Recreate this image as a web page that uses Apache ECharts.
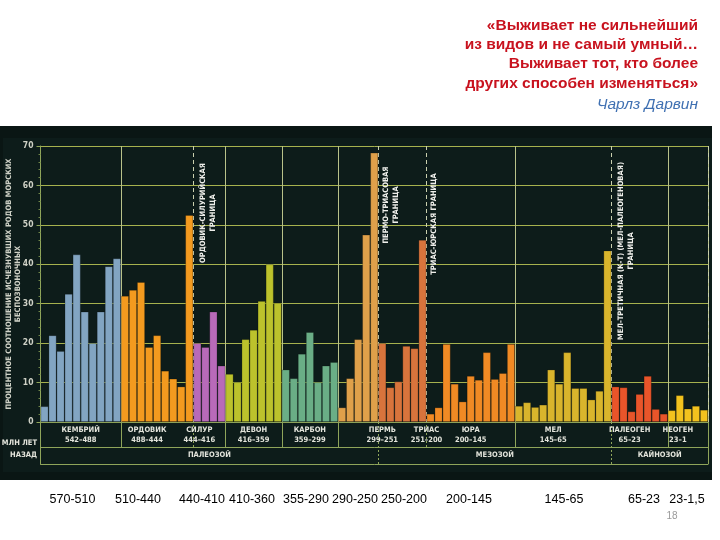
<!DOCTYPE html>
<html>
<head>
<meta charset="utf-8">
<script src="https://cdn.jsdelivr.net/npm/echarts@6/dist/echarts.min.js"></script>
<style>
  html, body { margin: 0; padding: 0; background: #fff; }
  #chart { width: 720px; height: 540px; }
</style>
</head>
<body>
<div id="chart"></div>
<script>
// процент исчезнувших родов по интервалам
const cambrian = [4, 22, 18, 32.5, 42.5, 28, 20, 28, 39.5, 41.5];
const ordovician = [32, 33.5, 35.5, 19, 22, 13, 11, 9, 52.5];
const silurian = [20, 19, 28, 14.3];
const devonian = [12.2, 10.1, 21, 23.4, 30.7, 40, 30.2];
const carboniferous = [13.3, 11.1, 17.3, 22.8, 10.1, 14.3, 15.2];
const permian = [3.7, 11.1, 21, 47.5, 68.3];
const triassic = [20, 8.8, 10.3, 19.3, 18.7, 46.2];
const jurassic = [2.1, 3.7, 19.8, 9.7, 5.2, 11.7, 10.7, 17.7, 10.9, 12.4, 19.8];
const cretaceous = [4.1, 5, 3.8, 4.4, 13.3, 9.7, 17.7, 8.6, 8.6, 5.7, 7.9, 43.5];
const paleogene = [9, 8.8, 2.7, 7.1, 11.7, 3.3, 2.1];
const neogene = [3, 6.8, 3.4, 4.1, 3.1];

const periodNames = ['КЕМБРИЙ', 'ОРДОВИК', 'СИЛУР', 'ДЕВОН', 'КАРБОН', 'ПЕРМЬ', 'ТРИАС', 'ЮРА', 'МЕЛ', 'ПАЛЕОГЕН', 'НЕОГЕН'];
const periodDates = ['542–488', '488–444', '444–416', '416–359', '359–299', '299–251', '251–200', '200–145', '145–65', '65–23', '23–1'];
const eraNames = ['ПАЛЕОЗОЙ', 'МЕЗОЗОЙ', 'КАЙНОЗОЙ'];
const eraFirstPeriod = [0, 6, 9];
const extinctionPeriods = [2, 6, 7, 9]; // периоды, начинающиеся после массового вымирания
const boundaryNotes = [
  'ОРДОВИК-СИЛУРИЙСКАЯ\nГРАНИЦА',
  'ПЕРМО-ТРИАСОВАЯ\nГРАНИЦА',
  'ТРИАС-ЮРСКАЯ ГРАНИЦА',
  'МЕЛ-ТРЕТИЧНАЯ (К-Т) (МЕЛ-ПАЛЕОГЕНОВАЯ)\nГРАНИЦА'
];
const slideRanges = ['570-510', '510-440', '440-410', '410-360', '355-290', '290-250', '250-200', '200-145', '145-65', '65-23', '23-1,5'];
const quoteLines = ['«Выживает не сильнейший', 'из видов и не самый умный…', 'Выживает тот, кто более', 'других способен изменяться»'];
const quoteAuthor = 'Чарлз Дарвин';

const periodColors = ['#82a5c2', '#f39a1f', '#b86ab9', '#bcc22c', '#6aae86', '#dfa04a', '#d8743c', '#f08a24', '#d9b52c', '#e8552a', '#f2c21e'];

const condensed = '"DejaVu Sans Condensed", "Liberation Sans Narrow", sans-serif';
const tableColor = '#8fa55a';
const lightText = '#e4e5dc';

const periods = [cambrian, ordovician, silurian, devonian, carboniferous, permian, triassic, jurassic, cretaceous, paleogene, neogene];
const cats = [];
const barData = [];
const periodStart = [];
const periodEnd = [];
periods.forEach((vals, p) => {
  periodStart.push(cats.length);
  vals.forEach((v, i) => {
    cats.push(periodNames[p] + ' ' + (i + 1));
    barData.push({ value: v, itemStyle: { color: periodColors[p] } });
  });
  periodEnd.push(cats.length - 1);
});

const dashedStarts = extinctionPeriods.map(p => periodStart[p]);
const eraStarts = eraFirstPeriod.slice(1).map(p => periodStart[p]);
const solidStarts = periodStart.filter(i => dashedStarts.indexOf(i) < 0);
const dashedRow1 = dashedStarts.filter(i => eraStarts.indexOf(i) < 0);

let chart = echarts.init(document.getElementById('chart'));

function baseXAxis(extra) {
  return Object.assign({
    type: 'category',
    data: cats,
    position: 'bottom',
    axisLabel: { show: false },
    axisLine: { show: false },
    axisTick: { show: false },
    splitLine: { show: false }
  }, extra);
}

let option = {
  animation: false,
  backgroundColor: 'transparent',
  grid: { left: 40.5, right: 12, top: 146, bottom: 118, outerBoundsMode: 'none' },
  xAxis: [
    baseXAxis({
      axisLine: { show: true, lineStyle: { color: tableColor, width: 1 } },
      axisTick: { show: true, length: 25, interval: i => solidStarts.indexOf(i) >= 0, lineStyle: { color: tableColor } },
      splitLine: { show: true, interval: i => solidStarts.indexOf(i) >= 0, lineStyle: { color: '#b8c28a', width: 1 } }
    }),
    baseXAxis({
      offset: 25,
      axisLine: { show: true, lineStyle: { color: tableColor, width: 1 } },
      axisTick: { show: true, inside: true, length: 25, interval: i => dashedRow1.indexOf(i) >= 0, lineStyle: { color: tableColor, type: [2, 2] } },
      splitLine: { show: true, interval: i => dashedStarts.indexOf(i) >= 0, lineStyle: { color: '#c9cfae', width: 1, type: [4, 3] } }
    }),
    baseXAxis({
      offset: 42,
      axisLine: { show: true, lineStyle: { color: tableColor, width: 1 } },
      axisTick: { show: true, inside: true, length: 42, interval: i => i === 0, lineStyle: { color: tableColor } }
    }),
    baseXAxis({
      offset: 42,
      axisTick: { show: true, inside: true, length: 42, interval: i => eraStarts.indexOf(i) >= 0, lineStyle: { color: tableColor, type: [2, 2] } }
    })
  ],
  yAxis: {
    type: 'value',
    min: 0,
    max: 70,
    interval: 10,
    name: 'ПРОЦЕНТНОЕ СООТНОШЕНИЕ ИСЧЕЗНУВШИХ РОДОВ МОРСКИХ\nБЕСПОЗВОНОЧНЫХ',
    nameLocation: 'middle',
    nameRotate: 90,
    nameGap: 18,
    nameMoveOverlap: false,
    nameTextStyle: { color: '#cfd1c6', fontSize: 7.5, fontWeight: 'bold', fontFamily: condensed, lineHeight: 9 },
    axisLine: { show: true, lineStyle: { color: tableColor } },
    axisTick: { show: true, length: 4, lineStyle: { color: tableColor } },
    minorTick: { show: true, splitNumber: 5, length: 2, lineStyle: { color: '#6f8548' } },
    axisLabel: { color: '#cfd1c6', fontSize: 8.5, margin: 7, fontFamily: condensed, fontWeight: 'bold' },
    splitLine: { lineStyle: { color: '#a6b24e', width: 1 } }
  },
  series: [
    {
      type: 'bar',
      data: barData,
      barCategoryGap: '0%',
      itemStyle: { borderColor: 'rgba(0,0,0,0.28)', borderWidth: 0.8 },
      markArea: {
        silent: true,
        itemStyle: { color: 'rgba(0,0,0,0)' },
        label: {
          position: 'bottom',
          distance: 3,
          color: lightText,
          fontFamily: condensed,
          fontWeight: 'bold',
          fontSize: 7.5,
          lineHeight: 10
        },
        data: periodNames.map((n, p) => [
          { xAxis: cats[periodStart[p]], label: { formatter: n + '\n' + periodDates[p] } },
          { xAxis: cats[periodEnd[p]] }
        ])
      }
    },
    {
      type: 'line',
      data: [],
      symbol: 'none',
      markArea: {
        silent: true,
        itemStyle: { color: 'rgba(0,0,0,0)' },
        label: {
          position: 'bottom',
          distance: 28,
          color: lightText,
          fontFamily: condensed,
          fontWeight: 'bold',
          fontSize: 7.5,
          lineHeight: 10
        },
        data: eraNames.map((n, e) => {
          const first = periodStart[eraFirstPeriod[e]];
          const last = e + 1 < eraFirstPeriod.length ? periodStart[eraFirstPeriod[e + 1]] - 1 : cats.length - 1;
          return [{ xAxis: cats[first], label: { formatter: n } }, { xAxis: cats[last] }];
        })
      }
    }
  ]
};

chart.setOption(option, true);

// подписи границ вымираний ставим от реальных границ столбиков
const band = chart.convertToPixel({ xAxisIndex: 0 }, cats[1]) - chart.convertToPixel({ xAxisIndex: 0 }, cats[0]);
const noteMiddles = [213, 205, 224, 251];
const noteGaps = [5, 3, 3, 5];
const noteGraphics = boundaryNotes.map((t, k) => ({
  type: 'text',
  x: chart.convertToPixel({ xAxisIndex: 0 }, cats[dashedStarts[k]]) - band / 2 + noteGaps[k],
  y: noteMiddles[k],
  rotation: Math.PI / 2,
  z: 5,
  style: {
    text: t,
    align: 'center',
    verticalAlign: 'top',
    fill: '#eeeeea',
    fontSize: 7.5,
    fontWeight: 'bold',
    fontFamily: condensed,
    lineHeight: 10
  }
}));

const slideRangeX = [72.5, 138, 202, 252, 306, 355, 404, 469, 564, 644, 687];

chart.setOption({
  graphic: [
    { type: 'rect', z: -10, shape: { x: 0, y: 126, width: 712, height: 354 }, style: { fill: '#0a1614' } },
    { type: 'rect', z: -9, shape: { x: 3, y: 138, width: 709, height: 334 }, style: { fill: '#0d1c1a' } },
    {
      type: 'text', x: 37, y: 443, z: 5,
      style: { text: 'МЛН ЛЕТ', align: 'right', verticalAlign: 'middle', fill: lightText, fontSize: 7.5, fontWeight: 'bold', fontFamily: condensed }
    },
    {
      type: 'text', x: 37, y: 455, z: 5,
      style: { text: 'НАЗАД', align: 'right', verticalAlign: 'middle', fill: lightText, fontSize: 7.5, fontWeight: 'bold', fontFamily: condensed }
    },
    {
      type: 'text', x: 698, y: 54.5,
      style: {
        text: quoteLines.join('\n'), align: 'right', verticalAlign: 'middle', lineHeight: 19.3,
        fill: '#c8121e', fontSize: 15.5, fontWeight: 'bold', fontFamily: '"Liberation Sans", Arial, sans-serif'
      }
    },
    {
      type: 'text', x: 698, y: 105,
      style: {
        text: quoteAuthor, align: 'right', verticalAlign: 'middle',
        fill: '#3f70b2', fontSize: 15.5, fontStyle: 'italic', fontFamily: '"Liberation Sans", Arial, sans-serif'
      }
    },
    {
      type: 'text', x: 672, y: 516,
      style: { text: '18', align: 'center', verticalAlign: 'middle', fill: '#9a9a9a', fontSize: 10, fontFamily: '"Liberation Sans", sans-serif' }
    }
  ].concat(noteGraphics).concat(slideRanges.map((t, k) => ({
    type: 'text', x: slideRangeX[k], y: 500,
    style: { text: t, align: 'center', verticalAlign: 'middle', fill: '#000', fontSize: 12.5, fontFamily: '"Liberation Sans", Arial, sans-serif' }
  })))
});

window.addEventListener('resize', () => {
  chart.resize();
});
</script>
</body>
</html>
